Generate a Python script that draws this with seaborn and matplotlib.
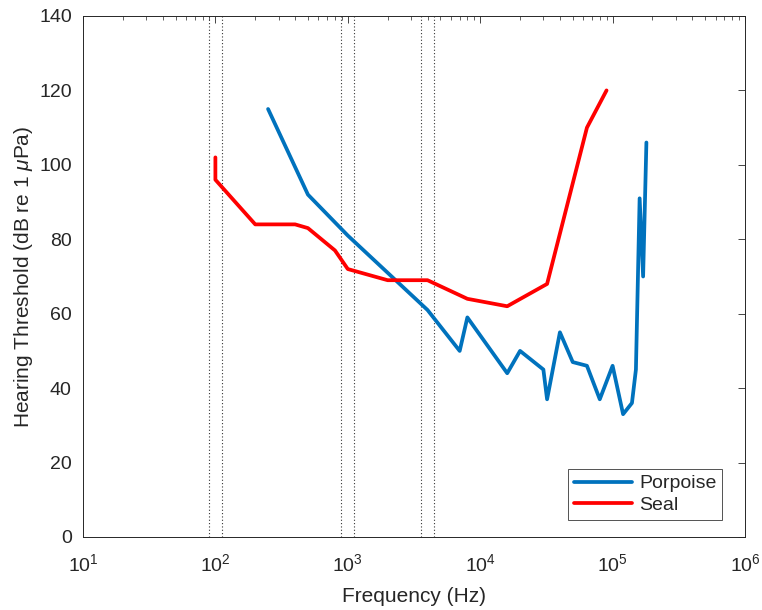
import numpy as np
import pandas as pd
import matplotlib
matplotlib.use("Agg")
import matplotlib.pyplot as plt
import matplotlib.ticker as mticker
import seaborn as sns

# Data
porpoise_freq = [250, 500, 1000, 2000, 4000, 7000, 8000, 16000, 20000, 30000, 32000,
                 40000, 50000, 64000, 80000, 100000, 120000, 140000, 150000, 160000,
                 170000, 180000]
porpoise_thr = [115, 92, 81, 71, 61, 50, 59, 44, 50, 45, 37,
                55, 47, 46, 37, 46, 33, 36, 45, 91, 70, 106]
seal_freq = [100, 100, 200, 400, 500, 800, 1000, 2000, 4000, 8000, 16000, 32000, 64000, 90000]
seal_thr = [102, 96, 84, 84, 83, 77, 72, 69, 69, 64, 62, 68, 110, 120]
band_edges = [89.1, 112.2, 891, 1122, 3548, 4467]
series_names = ["Porpoise", "Seal"]

sns.set_style("white")
plt.rcParams['font.family'] = ['Liberation Sans', 'DejaVu Sans']
plt.rcParams['mathtext.fontset'] = 'custom'
plt.rcParams['mathtext.it'] = 'Liberation Sans:italic'
plt.rcParams['mathtext.rm'] = 'Liberation Sans'

fig = plt.figure(figsize=(7.62, 6.10), dpi=100)
ax = fig.add_axes([0.1089, 0.1197, 0.8688, 0.8541])

dfp = pd.DataFrame({"f": porpoise_freq, "t": porpoise_thr})
dfs = pd.DataFrame({"f": seal_freq, "t": seal_thr})

sns.lineplot(data=dfp, x="f", y="t", sort=False, estimator=None, color="#0072BD",
             linewidth=2.7, ax=ax, label=series_names[0])
sns.lineplot(data=dfs, x="f", y="t", sort=False, estimator=None, color="#FF0000",
             linewidth=2.7, ax=ax, label=series_names[1])

for e in band_edges:
    ax.axvline(e, color="#333333", linestyle=(0, (1, 2)), linewidth=0.8, zorder=0)

ax.set_xscale("log")
ax.set_xlim(10, 1e6)
ax.set_ylim(0, 140)
ax.set_yticks(range(0, 141, 20))
ax.xaxis.set_major_locator(mticker.LogLocator(base=10, numticks=10))
ax.xaxis.set_minor_locator(mticker.LogLocator(base=10, subs=np.arange(2, 10), numticks=20))
ax.xaxis.set_major_formatter(mticker.LogFormatterMathtext())

ax.tick_params(axis="both", which="both", direction="in", top=True, right=True,
               labelsize=14, colors="#262626", labelcolor="#262626")
ax.tick_params(axis="both", which="major", length=5, width=0.6)
ax.tick_params(axis="x", which="minor", length=3, width=0.5)
ax.tick_params(axis="x", which="major", pad=12)
ax.tick_params(axis="y", which="major", pad=8)

for s in ax.spines.values():
    s.set_color("#262626")
    s.set_linewidth(0.7)

ax.set_xlabel("Frequency (Hz)", fontsize=15, color="#262626", labelpad=8)
ax.set_ylabel(r"Hearing Threshold (dB re 1 $\mu$Pa)", fontsize=15, color="#262626", labelpad=3)

leg = ax.legend(loc="lower right", bbox_to_anchor=(0.966, 0.033), fontsize=14, frameon=True,
                fancybox=False, edgecolor="#262626", handlelength=3.0, borderpad=0.3,
                labelspacing=0.2, handletextpad=0.35, borderaxespad=0)
leg.get_frame().set_linewidth(0.7)

fig.savefig("out.png", dpi=100)
